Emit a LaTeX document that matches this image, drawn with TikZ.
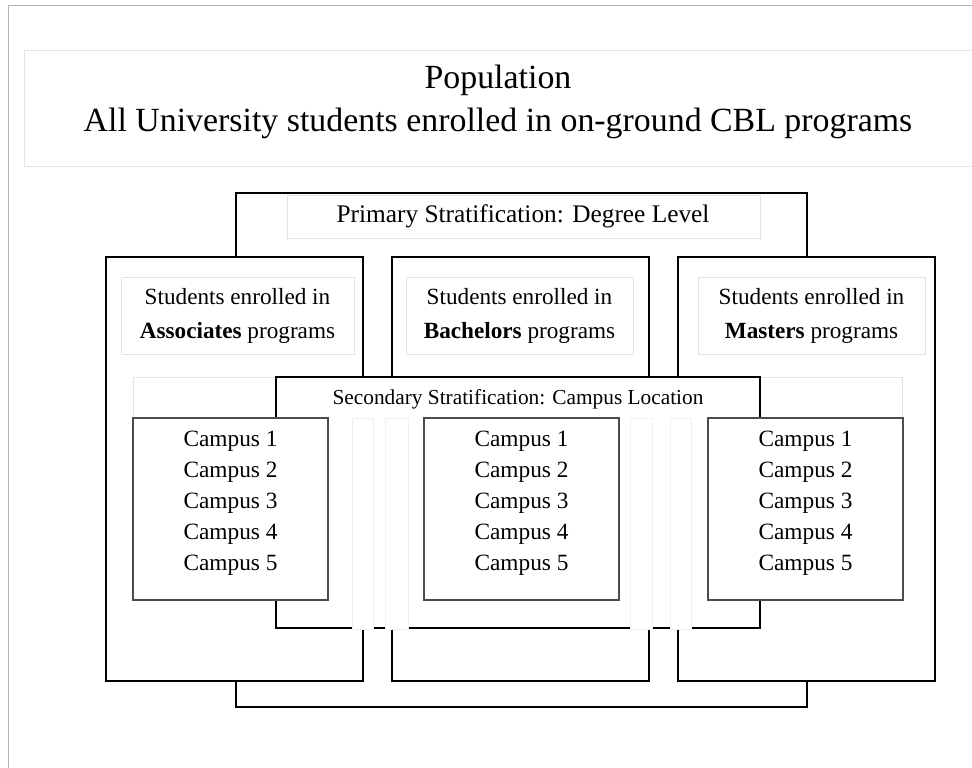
\documentclass[tikz,border=0pt]{standalone}
\usepackage{fontspec}
\setmainfont{Liberation Serif}
\tikzset{
  levelframe/.style={draw=black, line width=2.2pt, fill=white},
  palebox/.style={draw=gray!22, line width=0.75pt, fill=white},
  stripbox/.style={draw=gray!12, line width=0.75pt, fill=white},
  campusbox/.style={draw=black!70, line width=1pt, fill=white},
  titletext/.style={align=center, font=\fontsize{25.4}{32.25}\selectfont},
  leveltext/.style={align=center, font=\fontsize{17.4}{25.5}\selectfont},
  campustext/.style={align=center, font=\fontsize{17.5}{23.25}\selectfont},
}
\newcommand{\campuslist}{Campus 1\\Campus 2\\Campus 3\\Campus 4\\Campus 5}

\begin{document}
\begin{tikzpicture}[x=0.75pt, y=-0.75pt]
\useasboundingbox (0,0) rectangle (972,768);
% page frame
\draw[gray!60, line width=0.75pt] (8,770) -- (8,5) -- (975,5);
% population
\draw[palebox] (24,50) rectangle (980,166);
\node[titletext] (pop) at (498,102) {Population\\All University students enrolled in on-ground CBL programs};
% primary stratification
\draw[levelframe] (236,193) rectangle (807,707);
\draw[palebox] (287,195) rectangle (760,238);
\node[font=\fontsize{19}{23}\selectfont] (primary) at (523,216) {Primary Stratification: Degree Level};
% degree levels
\draw[levelframe] (106,257) rectangle (363,681);
\draw[levelframe] (392,257) rectangle (649,681);
\draw[levelframe] (678,257) rectangle (935,681);
\draw[palebox] (121,277) rectangle (354,354);
\draw[palebox] (406,277) rectangle (633,354);
\draw[palebox] (698,277) rectangle (925,354);
\node[leveltext] (assoc) at (237.5,315.5) {Students enrolled in\\\textbf{Associates} programs};
\node[leveltext] (bach) at (519.5,315.5) {Students enrolled in\\\textbf{Bachelors} programs};
\node[leveltext] (mast) at (811.5,315.5) {Students enrolled in\\\textbf{Masters} programs};
% secondary stratification
\draw[palebox] (133,377) rectangle (902,418);
\draw[black, line width=1pt, fill=white] (276,377) rectangle (760,628);
\node[font=\fontsize{16}{20}\selectfont] (secondary) at (518,399) {Secondary Stratification: Campus Location};
\foreach \a/\b in {352/373, 385/408, 630/652, 670/691}
  \draw[stripbox] (\a,418) rectangle (\b,629);
% campuses
\draw[campusbox] (133,418) rectangle (328,600);
\draw[campusbox] (424,418) rectangle (619,600);
\draw[campusbox] (708,418) rectangle (903,600);
\node[campustext] (campA) at (230.5,503) {\campuslist};
\node[campustext] (campB) at (521.5,503) {\campuslist};
\node[campustext] (campC) at (805.5,503) {\campuslist};
\end{tikzpicture}
\end{document}
